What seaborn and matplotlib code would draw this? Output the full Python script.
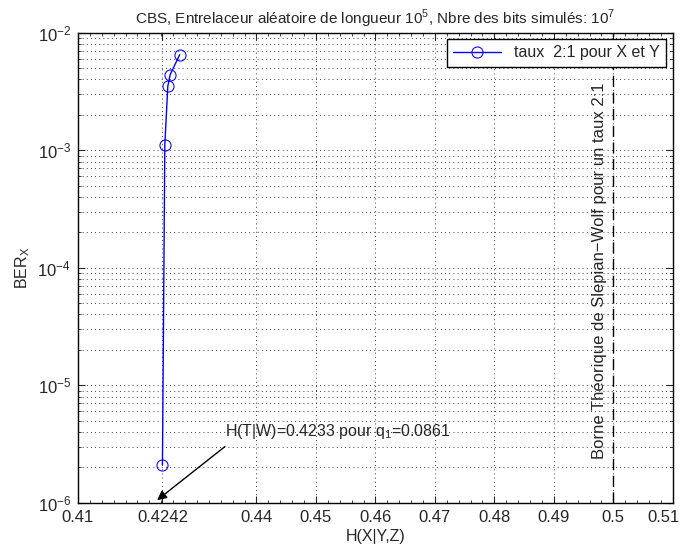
import seaborn as sns
import matplotlib.pyplot as plt
import pandas as pd
from matplotlib.ticker import FixedLocator, LogLocator, NullFormatter, MultipleLocator
from matplotlib.transforms import ScaledTranslation

# values
entropy = [0.4242, 0.4246, 0.4251, 0.4255, 0.4271]
ber = [2.1e-6, 1.1e-3, 3.5e-3, 4.4e-3, 6.5e-3]
sw_bound = 0.5
h_tw = 0.4233
x_ticks = [0.41, 0.4242, 0.44, 0.45, 0.46, 0.47, 0.48, 0.49, 0.5, 0.51]
x_tick_labels = ["0.41", "0.4242", "0.44", "0.45", "0.46", "0.47", "0.48", "0.49", "0.5", "0.51"]

df = pd.DataFrame({"H": entropy, "BER": ber})

sns.set_style("ticks")
plt.rcParams['font.family'] = ['Liberation Sans', 'DejaVu Sans']
plt.rcParams['font.size'] = 11

fig = plt.figure(figsize=(6.81, 5.48), dpi=100)
ax = fig.add_axes([0.1145, 0.0827, 0.8735, 0.8576])

sns.lineplot(data=df, x="H", y="BER", ax=ax, color="blue", marker="o",
             markerfacecolor="none", markeredgecolor="blue", markersize=8,
             linewidth=1, sort=False, label="taux  2:1 pour X et Y")

ax.axvline(sw_bound, color="black", linestyle="--", linewidth=1, dashes=(8, 4))

ax.set_yscale("log")
ax.set_xlim(0.41, 0.51)
ax.set_ylim(1e-6, 1e-2)
ax.xaxis.set_major_locator(FixedLocator(x_ticks))
ax.set_xticklabels(x_tick_labels)
ax.xaxis.set_minor_locator(MultipleLocator(0.002))
ax.yaxis.set_major_locator(LogLocator(base=10, numticks=10))
ax.yaxis.set_minor_locator(LogLocator(base=10, subs=range(2, 10), numticks=20))
ax.yaxis.set_minor_formatter(NullFormatter())

grid_kw = dict(linestyle=(0, (1, 4)), color="black", linewidth=0.6)
ax.grid(True, which="major", axis="both", **grid_kw)
ax.grid(True, which="minor", axis="y", **grid_kw)
ax.tick_params(which="both", direction="in", top=True, right=True, labelsize=12)
ax.tick_params(which="major", length=5, pad=5)
ax.tick_params(which="minor", length=2.5)
for s in ax.spines.values():
    s.set_linewidth(1)
    s.set_color("black")

# keep the last x label inside the figure, as in the reference
last = ax.get_xticklabels()[-1]
last.set_transform(last.get_transform() + ScaledTranslation(-9 / 100, 0, fig.dpi_scale_trans))

ax.set_xlabel("H(X|Y,Z)", fontsize=11.5, labelpad=3)
ax.set_ylabel("BER$_\\mathregular{X}$", fontsize=11.5, labelpad=4)
ax.set_title("CBS, Entrelaceur aléatoire de longueur 10$^\\mathregular{5}$, "
             "Nbre des bits simulés: 10$^\\mathregular{7}$", fontsize=11, pad=6)

ax.text(0.4347, 4e-6, "H(T|W)=0.4233 pour q$_\\mathregular{1}$=0.0861",
        ha="left", va="center", fontsize=11.5)
ax.annotate("", xy=(h_tw, 1.05e-6), xytext=(0.4347, 3e-6),
            arrowprops=dict(arrowstyle="-|>", color="black", lw=1,
                            mutation_scale=14, shrinkA=0, shrinkB=0))

ax.text(0.4976, 9.5e-5, "Borne Théorique de Slepian\u2212Wolf pour un taux 2:1",
        rotation=90, ha="center", va="center", fontsize=12)

leg = ax.legend(loc="upper right", fancybox=False, framealpha=1,
                edgecolor="black", fontsize=11.5, borderaxespad=0.4,
                handlelength=3)
leg.get_frame().set_linewidth(1)

fig.savefig("out.png", dpi=100)
